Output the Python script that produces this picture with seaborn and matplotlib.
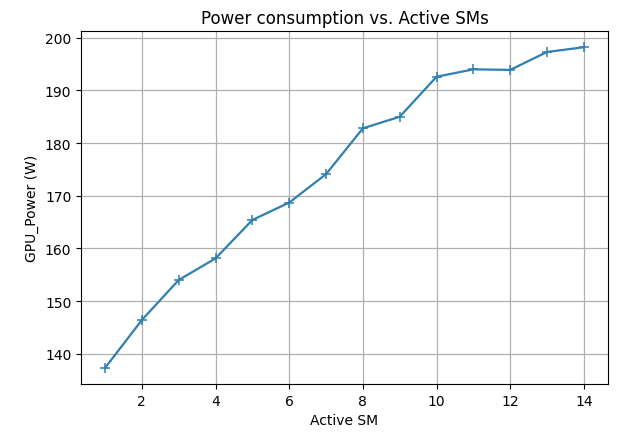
import matplotlib
matplotlib.use("Agg")
import matplotlib.pyplot as plt
import seaborn as sns
import pandas as pd

active_sm = [1, 2, 3, 4, 5, 6, 7, 8, 9, 10, 11, 12, 13, 14]
gpu_power = [137.3, 146.4, 154.0, 158.1, 165.4, 168.7, 174.1, 182.8, 185.0, 192.6, 194.0, 193.9, 197.3, 198.2]

df = pd.DataFrame({"Active SM": active_sm, "GPU_Power (W)": gpu_power})

line_color = "#2f7fb0"
fig = plt.figure(figsize=(6.19, 4.35), dpi=100)
ax = fig.add_axes([0.131, 0.115, 0.851, 0.811])
sns.lineplot(data=df, x="Active SM", y="GPU_Power (W)", marker="+", markersize=7,
             markeredgewidth=1.1, markeredgecolor=line_color, color=line_color,
             linewidth=1.6, ax=ax)
ax.grid(True, color="#b0b0b0", linewidth=0.9)
ax.set_axisbelow(True)
ax.set_title("Power consumption vs. Active SMs", fontsize=12)
ax.set_xlabel("Active SM", fontsize=10)
ax.set_ylabel("GPU_Power (W)", fontsize=10)
ax.set_xticks([2, 4, 6, 8, 10, 12, 14])
fig.savefig("out.png", dpi=100)
